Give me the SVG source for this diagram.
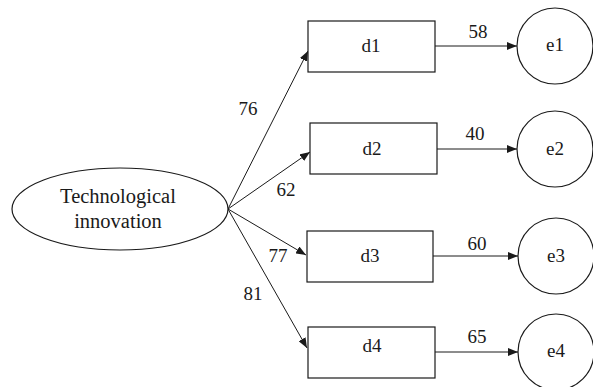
<svg xmlns="http://www.w3.org/2000/svg" width="593" height="387" viewBox="0 0 593 387" font-family="Liberation Serif, serif">
<defs>
<marker id="ah" viewBox="0 0 10 8" refX="10" refY="4" markerWidth="10" markerHeight="8" markerUnits="userSpaceOnUse" orient="auto">
<path d="M0,0 L10,4 L0,8 Z" fill="#1a1a1a"/>
</marker>
</defs>
<style>
.shape{fill:#fff;stroke:#1a1a1a;stroke-width:1.2}
.t{font-family:"Liberation Serif",serif;font-size:19px;fill:#1a1a1a;text-anchor:middle}
.big{font-size:20.5px}
.line{stroke:#1a1a1a;stroke-width:1;fill:none;marker-end:url(#ah)}
</style>
<rect width="593" height="387" fill="#fff"/>
<g id="connectors">
<line class="line" x1="228" y1="209" x2="308" y2="51"/>
<line class="line" x1="228" y1="209" x2="310" y2="152"/>
<line class="line" x1="228" y1="209" x2="306" y2="255"/>
<line class="line" x1="228" y1="209" x2="307" y2="348"/>
<line class="line" x1="435" y1="46" x2="517" y2="46"/>
<line class="line" x1="437" y1="149" x2="517" y2="149"/>
<line class="line" x1="433" y1="256" x2="518" y2="256"/>
<line class="line" x1="435" y1="352" x2="518" y2="352"/>
<text class="t" x="248" y="115">76</text>
<text class="t" x="286" y="196">62</text>
<text class="t" x="278" y="262">77</text>
<text class="t" x="253" y="300">81</text>
<text class="t" x="478" y="38">58</text>
<text class="t" x="475" y="140">40</text>
<text class="t" x="477" y="250">60</text>
<text class="t" x="477" y="343">65</text>
</g>
<g id="tech">
<ellipse class="shape" cx="120" cy="209" rx="108" ry="41"/>
<text class="t big" x="118" y="203">Technological</text>
<text class="t big" x="118" y="228">innovation</text>
</g>
<g id="d1"><rect class="shape" x="308" y="21" width="127" height="51"/><text class="t" x="371" y="52">d1</text></g>
<g id="d2"><rect class="shape" x="310" y="123" width="127" height="51"/><text class="t" x="372" y="155">d2</text></g>
<g id="d3"><rect class="shape" x="307" y="231" width="126" height="51"/><text class="t" x="370" y="262">d3</text></g>
<g id="d4"><rect class="shape" x="308" y="327" width="127" height="51"/><text class="t" x="372" y="352">d4</text></g>
<g id="e1"><circle class="shape" cx="555" cy="46" r="38"/><text class="t" x="555" y="51">e1</text></g>
<g id="e2"><circle class="shape" cx="555" cy="149" r="38"/><text class="t" x="555" y="155">e2</text></g>
<g id="e3"><circle class="shape" cx="556" cy="256" r="38"/><text class="t" x="556" y="262">e3</text></g>
<g id="e4"><circle class="shape" cx="556" cy="352" r="38"/><text class="t" x="556" y="357">e4</text></g>
</svg>
